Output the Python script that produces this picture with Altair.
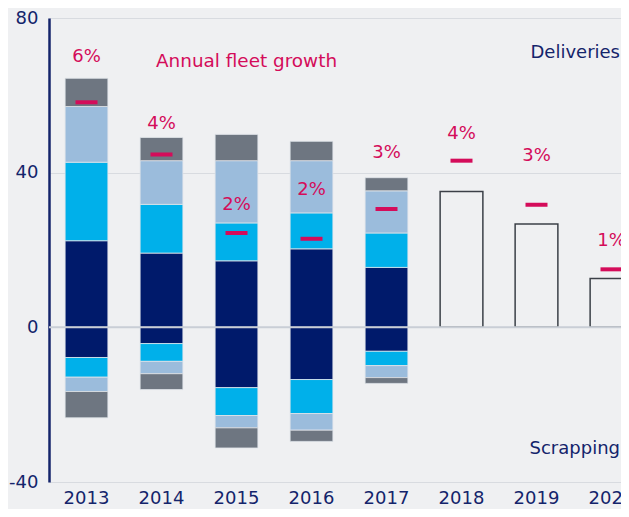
import altair as alt
import pandas as pd

years = ["2013", "2014", "2015", "2016", "2017", "2018", "2019", "2020"]
hist_years = ["2013", "2014", "2015", "2016", "2017"]
segments = ["s1", "s2", "s3", "s4"]
seg_colors = ["#001a6b", "#00b0ea", "#9bbcdc", "#6e7681"]

# deliveries (positive) per segment, 2013-2017
deliv_s1 = [22.4, 19.2, 17.2, 20.3, 15.5]
deliv_s2 = [20.3, 12.6, 9.8, 9.3, 8.9]
deliv_s3 = [14.4, 11.3, 16.1, 13.5, 10.9]
deliv_s4 = [7.3, 6.0, 6.8, 5.0, 3.4]
# scrapping (negative) per segment, 2013-2017
scrap_s1 = [-7.8, -4.2, -15.6, -13.5, -6.2]
scrap_s2 = [-5.1, -4.6, -7.2, -8.8, -3.7]
scrap_s3 = [-3.7, -3.2, -3.2, -4.3, -3.1]
scrap_s4 = [-6.8, -4.1, -5.2, -2.9, -1.5]

fc_years = ["2018", "2019", "2020"]
fc_deliv = [35.1, 26.7, 12.6]

growth_pos = [58.2, 44.7, 24.4, 22.9, 30.6, 43.1, 31.7, 15.0]
growth_pct = [6, 4, 2, 2, 3, 4, 3, 1]
label_anchor = [69.9, 52.5, 31.7, 35.6, 45.2, 50.1, 44.2, 22.3]

NAVY = "#14246b"
MAG = "#d40c5a"
FONT = "DejaVu Sans"

rows = []
for i, y in enumerate(hist_years):
    pos = [deliv_s1[i], deliv_s2[i], deliv_s3[i], deliv_s4[i]]
    neg = [scrap_s1[i], scrap_s2[i], scrap_s3[i], scrap_s4[i]]
    acc = 0.0
    for k, v in enumerate(pos):
        rows.append({"year": y, "seg": segments[k], "y0": acc, "y1": acc + v})
        acc += v
    acc = 0.0
    for k, v in enumerate(neg):
        rows.append({"year": y, "seg": segments[k], "y0": acc, "y1": acc + v})
        acc += v
stack_df = pd.DataFrame(rows)

fc_df = pd.DataFrame({"year": fc_years, "v": fc_deliv})
g_df = pd.DataFrame({"year": years, "g": growth_pos,
                     "lab": [f"{p}%" for p in growth_pct], "ly": label_anchor})

W, H = 572, 464
xscale = alt.Scale(domain=years, range=[0, 600], paddingInner=0.43, paddingOuter=0.215)
yscale = alt.Scale(domain=[-40, 80], nice=False, zero=False)

xenc = alt.X("year:N", scale=xscale, sort=years,
             axis=alt.Axis(title=None, domain=False, ticks=False, grid=False,
                           labelFontSize=18, labelFont=FONT, labelColor=NAVY,
                           labelPadding=7, labelAngle=0))

base_axis_y = alt.Y("y0:Q", scale=yscale,
                    axis=alt.Axis(title=None, values=[-40, 0, 40, 80], ticks=False,
                                  domain=True, domainColor=NAVY, domainWidth=2.5,
                                  grid=True, gridColor="#d8dbe0", gridWidth=1,
                                  labelFontSize=18, labelFont=FONT, labelColor=NAVY,
                                  labelPadding=11, labelExpr="'' + datum.value"))

bars = alt.Chart(stack_df).mark_bar(stroke="#dfe4ea", strokeWidth=0.8).encode(
    x=xenc,
    y=base_axis_y,
    y2="y1:Q",
    color=alt.Color("seg:N", scale=alt.Scale(domain=segments, range=seg_colors), legend=None),
)

fc = alt.Chart(fc_df).mark_bar(fill=None, fillOpacity=0, stroke="#3c4048", strokeWidth=1.5).encode(
    x=alt.X("year:N", scale=xscale, sort=years),
    y=alt.Y("v:Q", scale=yscale),
    y2=alt.datum(0),
)

zero = alt.Chart(pd.DataFrame({"z": [0]})).mark_rule(color="#c9ced6", strokeWidth=2).encode(
    y=alt.Y("z:Q", scale=yscale)
)

dash = alt.Chart(g_df).mark_tick(color=MAG, thickness=4, size=22, orient="horizontal",
                                 opacity=1).encode(
    x=alt.X("year:N", scale=xscale, sort=years),
    y=alt.Y("g:Q", scale=yscale),
)

labels = alt.Chart(g_df).mark_text(color=MAG, fontSize=18, font=FONT, baseline="middle").encode(
    x=alt.X("year:N", scale=xscale, sort=years),
    y=alt.Y("ly:Q", scale=yscale),
    text="lab:N",
)

notes_df = pd.DataFrame({
    "t": ["Annual fleet growth", "Deliveries", "Scrapping"],
    "v": [69.0, 71.0, -31.5],
})
note_growth = alt.Chart(notes_df.iloc[[0]]).mark_text(
    align="left", baseline="middle", fontSize=18.4, font=FONT, color=MAG
).encode(x=alt.value(107), y=alt.Y("v:Q", scale=yscale), text="t:N")
note_right = alt.Chart(notes_df.iloc[[1, 2]]).mark_text(
    align="right", baseline="middle", fontSize=18, font=FONT, color=NAVY
).encode(x=alt.value(571), y=alt.Y("v:Q", scale=yscale), text="t:N")

chart = alt.layer(bars, fc, zero, dash, labels, note_growth, note_right).properties(
    width=W, height=H,
    autosize=alt.AutoSizeParams(type="none"),
    padding={"left": 41, "top": 10, "right": 0, "bottom": 27},
    background="#eff0f2",
).configure_view(stroke=None)

chart.save("out.html", embed_options={"renderer": "svg", "actions": False})
